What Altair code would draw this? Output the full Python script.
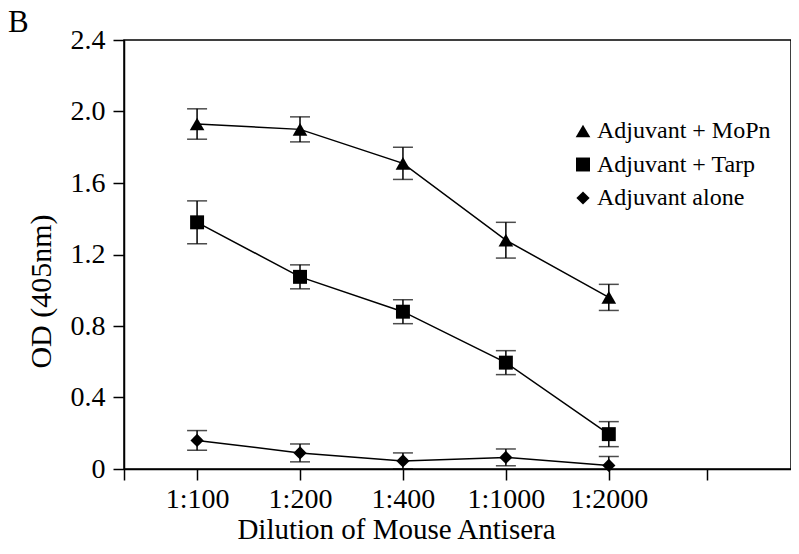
import altair as alt
import pandas as pd

dilutions = ["1:100", "1:200", "1:400", "1:1000", "1:2000"]
positions = [1, 2, 3, 4, 5]
series_names = ["Adjuvant + MoPn", "Adjuvant + Tarp", "Adjuvant alone"]
mopn = [1.93, 1.90, 1.71, 1.28, 0.96]
mopn_err = [0.085, 0.07, 0.09, 0.10, 0.073]
tarp = [1.38, 1.075, 0.88, 0.595, 0.195]
tarp_err = [0.12, 0.067, 0.067, 0.067, 0.07]
alone = [0.16, 0.09, 0.045, 0.065, 0.02]
alone_err = [0.055, 0.05, 0.045, 0.047, 0.05]
y_ticks = [0, 0.4, 0.8, 1.2, 1.6, 2.0, 2.4]
x_ticks = [0.29, 1, 2, 3, 4, 5, 5.95]
panel_label = ["B"]

rows = []
for name, vals, errs in zip(series_names, [mopn, tarp, alone], [mopn_err, tarp_err, alone_err]):
    for d, p, v, e in zip(dilutions, positions, vals, errs):
        rows.append({"series": name, "dilution": d, "pos": p, "od": v,
                     "lo": v - e, "hi": v + e})
df = pd.DataFrame(rows)

label_arr = "[''," + ",".join("'%s'" % d for d in dilutions) + ",'']"
FONT = "Liberation Serif"

x = alt.X("pos:Q",
          scale=alt.Scale(domain=[0.29, 6.77], nice=False, zero=False),
          axis=alt.Axis(values=x_ticks, labelExpr=label_arr + "[round(datum.value)]",
                        title="Dilution of Mouse Antisera", grid=False,
                        titleX=272, titleY=69, titleBaseline="alphabetic",
                        titleAnchor="start", titleAlign="center",
                        labelPadding=5, tickSize=11, labelFontSize=28, titleFontSize=29))
y_scale = alt.Scale(domain=[0, 2.4], nice=False)
y = alt.Y("od:Q", scale=y_scale,
          axis=alt.Axis(values=y_ticks,
                        labelExpr="datum.value == 0 ? '0' : format(datum.value, '.1f')",
                        title="OD (405nm)", grid=False, tickSize=11, labelPadding=8,
                        titleX=-74, titleY=251, titleAngle=-90,
                        titleBaseline="alphabetic", titleAlign="center",
                        labelFontSize=28, titleFontSize=30))

base = alt.Chart(df)

line = base.mark_line(color="black", strokeWidth=1.5).encode(x=x, y=y, detail="series:N")
rule = base.mark_rule(color="black", strokeWidth=1.5, clip=True).encode(
    x="pos:Q", y=alt.Y("lo:Q", scale=y_scale), y2="hi:Q")
cap_lo = base.mark_tick(color="black", orient="horizontal", size=20, thickness=1.5, clip=True).encode(
    x="pos:Q", y=alt.Y("lo:Q", scale=y_scale))
cap_hi = base.mark_tick(color="black", orient="horizontal", size=20, thickness=1.5, clip=True).encode(
    x="pos:Q", y=alt.Y("hi:Q", scale=y_scale))

legend = alt.Legend(title=None, orient="none", legendX=447, legendY=79,
                    symbolFillColor="black", symbolStrokeColor="black", symbolStrokeWidth=0,
                    labelFontSize=24, labelFont=FONT, labelColor="black", labelLimit=400,
                    rowPadding=9.5, symbolOffset=0, labelOffset=2)
pts = base.mark_point(filled=True, opacity=1, color="black", strokeWidth=0).encode(
    x="pos:Q", y=alt.Y("od:Q", scale=y_scale),
    shape=alt.Shape("series:N",
                    scale=alt.Scale(domain=series_names,
                                    range=["triangle-up", "square", "diamond"]),
                    legend=legend),
    size=alt.Size("series:N",
                  scale=alt.Scale(domain=series_names, range=[215, 175, 340]),
                  legend=legend))

label = alt.Chart(pd.DataFrame({"label": panel_label})).mark_text(
    font=FONT, fontSize=31, color="black", align="left", baseline="alphabetic"
).encode(text="label:N", x=alt.value(-116), y=alt.value(-8))

chart = alt.layer(line, rule, cap_lo, cap_hi, pts, label).properties(
    width=667, height=429,
    autosize=alt.AutoSizeParams(type="none"),
    padding={"left": 116, "top": 32, "right": 0, "bottom": 70},
    background="white",
).configure_view(stroke="black", strokeWidth=1.5).configure_axis(
    domainColor="black", domainWidth=1.5, tickColor="black", tickWidth=1.5,
    labelFont=FONT, labelColor="black",
    titleFont=FONT, titleColor="black", titleFontWeight="normal",
)

chart.save("out.html", embed_options={"renderer": "svg", "actions": False})
